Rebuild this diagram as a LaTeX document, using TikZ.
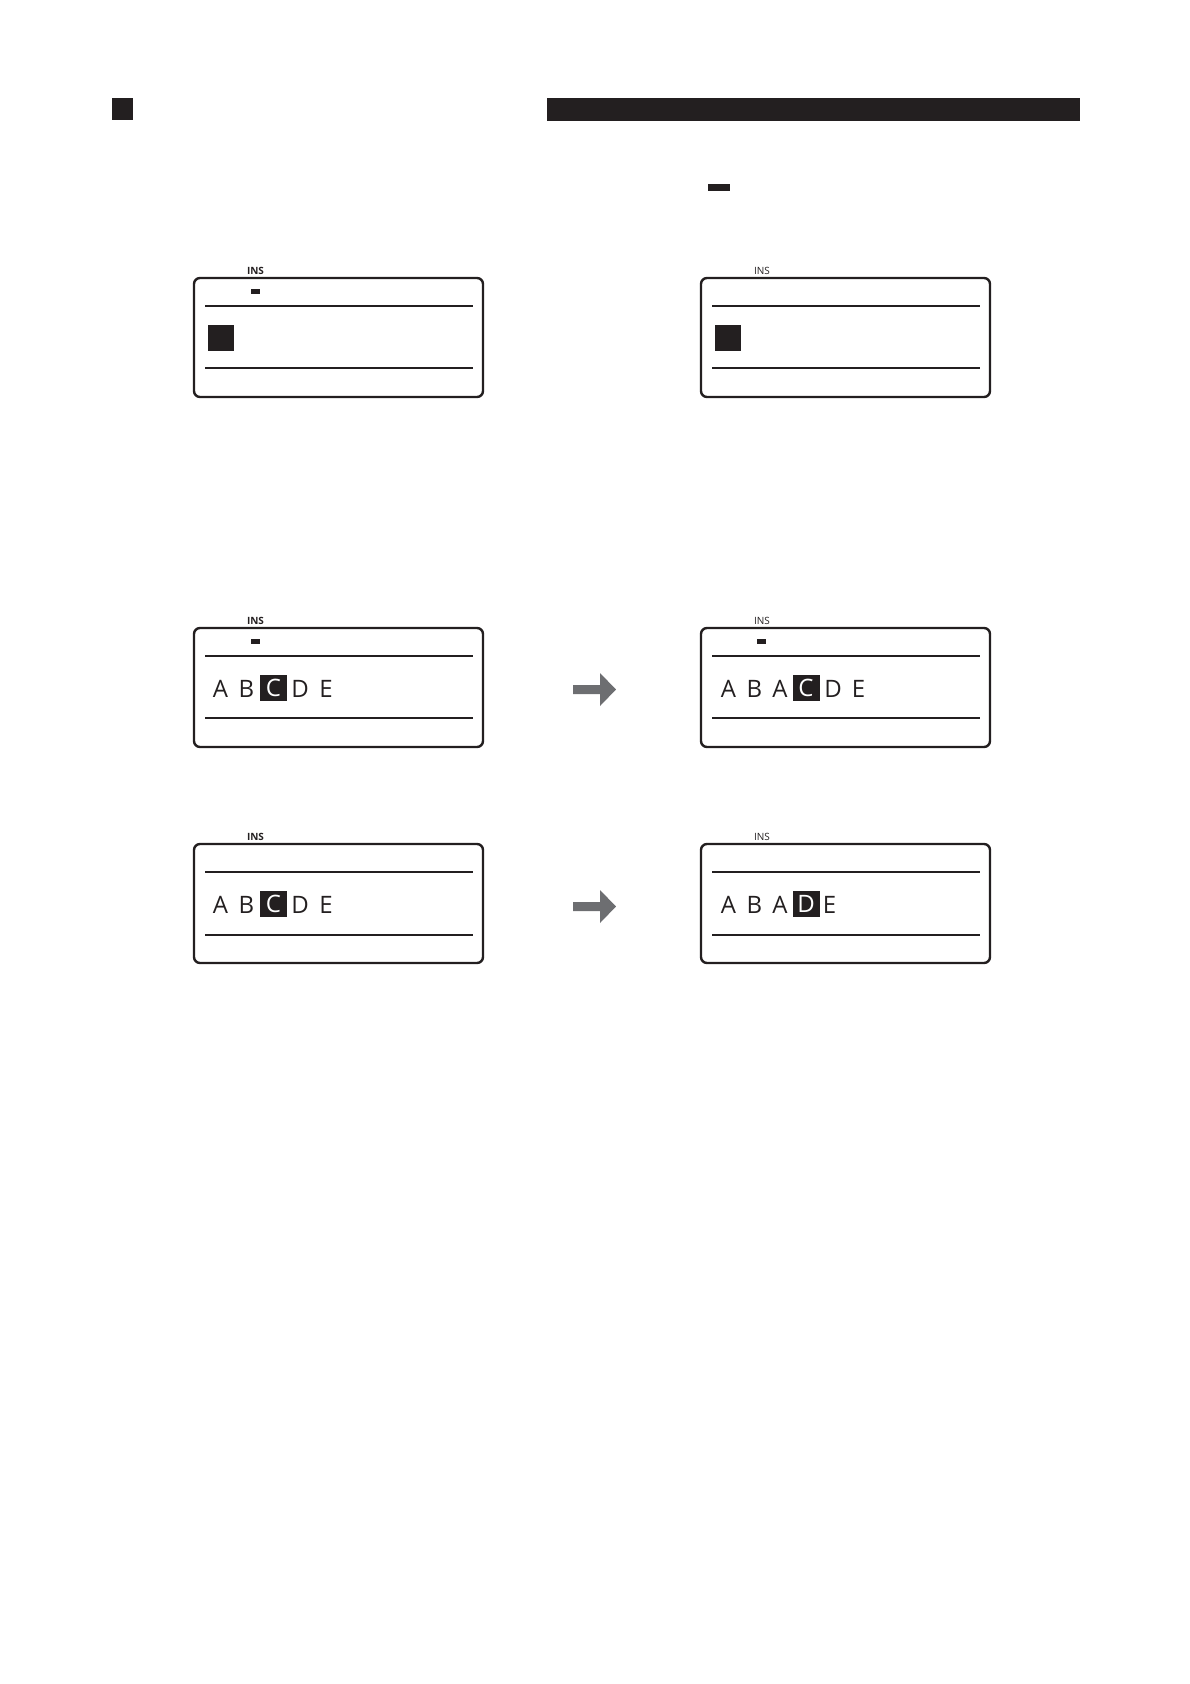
\documentclass[tikz,border=0pt]{standalone}
\usepackage{fontspec}
\setmainfont{Open Sans}
\begin{document}
\begin{tikzpicture}[x=1pt,y=-1pt]
\definecolor{ink}{HTML}{231F20}
\definecolor{arrowgray}{HTML}{6D6E71}
\tikzset{
  lcdbox/.style={draw=ink, line width=2.4pt, rounded corners=6pt, minimum width=289pt, minimum height=119pt, anchor=north west, inner sep=0, outer sep=0},
  rule/.style={draw=ink, line width=1.2pt},
  thickrule/.style={draw=ink, line width=2.4pt},
  inslabel/.style={font=\fontsize{10}{10}\selectfont, text=ink, inner sep=0},
  insbold/.style={inslabel, font=\fontsize{10}{10}\selectfont\bfseries},
  letter/.style={font=\fontsize{24}{24}\selectfont, text=ink, inner sep=0, anchor=base},
  hl/.style={fill=ink, text=white, font=\fontsize{24}{24}\selectfont, minimum width=27pt, minimum height=26pt, inner sep=0},
  blk/.style={fill=ink, inner sep=0, outer sep=0},
  bigarrow/.style={fill=arrowgray}
}
\useasboundingbox (0,0) rectangle (1190,1684);
% header
\node[blk, anchor=north west, minimum width=21pt, minimum height=22pt] (hsq) at (112,98) {};
\node[blk, anchor=north west, minimum width=533pt, minimum height=23pt] (hbar) at (547,98) {};
\node[blk, anchor=north west, minimum width=22pt, minimum height=7pt] (hdash) at (708,184) {};

% box 1
\begin{scope}[shift={(194,278)}]
  \node[lcdbox] (b1) at (0,0) {};
  \node[insbold] (b1ins) at (61.5,-7.5) {INS};
  \node[blk, anchor=north west, minimum width=9pt, minimum height=5pt] (b1dash) at (57,11) {};
  \coordinate (b1l1a) at (11,28); \coordinate (b1l1b) at (279,28);
  \coordinate (b1l2a) at (11,90); \coordinate (b1l2b) at (279,90);
  \draw[rule] (b1l1a) -- (b1l1b);
  \draw[rule] (b1l2a) -- (b1l2b);
  \node[blk, anchor=north west, minimum width=26pt, minimum height=26pt] (b1sq) at (14,47) {};
\end{scope}

% box 2
\begin{scope}[shift={(701,278)}]
  \node[lcdbox] (b2) at (0,0) {};
  \node[inslabel] (b2ins) at (61,-7.5) {INS};
  \coordinate (b2l1a) at (11,28); \coordinate (b2l1b) at (279,28);
  \coordinate (b2l2a) at (11,90); \coordinate (b2l2b) at (279,90);
  \draw[rule] (b2l1a) -- (b2l1b);
  \draw[rule] (b2l2a) -- (b2l2b);
  \node[blk, anchor=north west, minimum width=26pt, minimum height=26pt] (b2sq) at (14,47) {};
\end{scope}

% box 3
\begin{scope}[shift={(194,628)}]
  \node[lcdbox] (b3) at (0,0) {};
  \node[insbold] (b3ins) at (61.5,-7.5) {INS};
  \node[blk, anchor=north west, minimum width=9pt, minimum height=5pt] (b3dash) at (57,11) {};
  \coordinate (b3l1a) at (11,28); \coordinate (b3l1b) at (279,28);
  \coordinate (b3l2a) at (11,90); \coordinate (b3l2b) at (279,90);
  \draw[rule] (b3l1a) -- (b3l1b);
  \draw[rule] (b3l2a) -- (b3l2b);
  \node[letter] (b3a) at (26.5,69) {A};
  \node[letter] (b3b) at (52.5,69) {B};
  \node[hl] (b3c) at (79.5,60) {C};
  \node[letter] (b3d) at (106,69) {D};
  \node[letter] (b3e) at (132,69) {E};
\end{scope}

% box 4
\begin{scope}[shift={(701,628)}]
  \node[lcdbox] (b4) at (0,0) {};
  \node[inslabel] (b4ins) at (61,-7.5) {INS};
  \node[blk, anchor=north west, minimum width=9pt, minimum height=5pt] (b4dash) at (56,11) {};
  \coordinate (b4l1a) at (11,28); \coordinate (b4l1b) at (279,28);
  \coordinate (b4l2a) at (11,90); \coordinate (b4l2b) at (279,90);
  \draw[rule] (b4l1a) -- (b4l1b);
  \draw[rule] (b4l2a) -- (b4l2b);
  \node[letter] (b4a) at (27.5,69) {A};
  \node[letter] (b4b) at (53.5,69) {B};
  \node[letter] (b4a2) at (79,69) {A};
  \node[hl] (b4c) at (105,60) {C};
  \node[letter] (b4d) at (132,69) {D};
  \node[letter] (b4e) at (157.5,69) {E};
\end{scope}

% box 5
\begin{scope}[shift={(194,844)}]
  \node[lcdbox] (b5) at (0,0) {};
  \node[insbold] (b5ins) at (61.5,-7.5) {INS};
  \coordinate (b5l1a) at (11,28); \coordinate (b5l1b) at (279,28);
  \coordinate (b5l2a) at (11,91); \coordinate (b5l2b) at (279,91);
  \draw[rule] (b5l1a) -- (b5l1b);
  \draw[thickrule] (b5l2a) -- (b5l2b);
  \node[letter] (b5a) at (26.5,69) {A};
  \node[letter] (b5b) at (52.5,69) {B};
  \node[hl] (b5c) at (79.5,60) {C};
  \node[letter] (b5d) at (106,69) {D};
  \node[letter] (b5e) at (132,69) {E};
\end{scope}

% box 6
\begin{scope}[shift={(701,844)}]
  \node[lcdbox] (b6) at (0,0) {};
  \node[inslabel] (b6ins) at (61,-7.5) {INS};
  \coordinate (b6l1a) at (11,28); \coordinate (b6l1b) at (279,28);
  \coordinate (b6l2a) at (11,91); \coordinate (b6l2b) at (279,91);
  \draw[rule] (b6l1a) -- (b6l1b);
  \draw[thickrule] (b6l2a) -- (b6l2b);
  \node[letter] (b6a) at (27.5,69) {A};
  \node[letter] (b6b) at (53.5,69) {B};
  \node[letter] (b6a2) at (79,69) {A};
  \node[hl] (b6d) at (105,60) {D};
  \node[letter] (b6e) at (128.5,69) {E};
\end{scope}

% arrows
\fill[bigarrow] (573,685) -- (600,685) -- (600,673) -- (616,689.5) -- (600,706) -- (600,694) -- (573,694) -- cycle;
\fill[bigarrow] (573,902) -- (600,902) -- (600,890) -- (616,906.5) -- (600,923) -- (600,911) -- (573,911) -- cycle;
\end{tikzpicture}
\end{document}
